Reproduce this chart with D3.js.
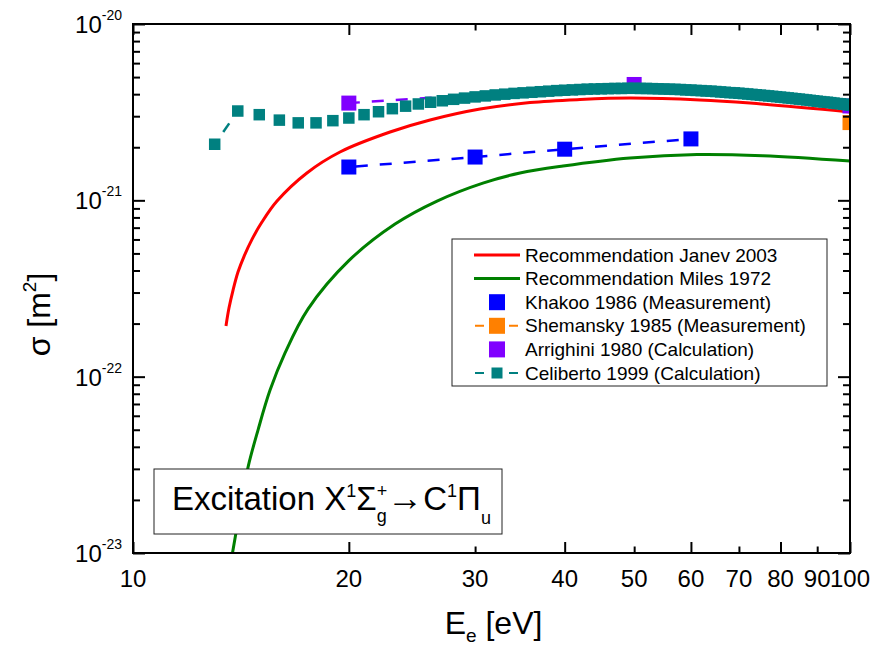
<!DOCTYPE html>
<html>
<head>
<meta charset="utf-8">
<script src="https://cdn.jsdelivr.net/npm/d3@7"></script>
<style>
  body { margin: 0; background: #fff; }
  svg { display: block; }
  text { font-family: "Liberation Sans", Arial, Helvetica, sans-serif; fill: #000; }
</style>
</head>
<body>
<svg id="chart" width="886" height="647"></svg>
<script>
// Electron energy in eV, cross sections in units of 1e-21 m^2.
const UNIT = 1e-21;

// Recommendation Janev 2003
const janevE = [13.48, 13.61, 13.79, 14.01, 14.29, 14.66, 15.13, 15.88, 17.48, 19.44, 22.83, 25.96, 30.48, 35.79, 42.02, 49.34, 61.76, 72.53, 100];
const janevS = [0.194, 0.245, 0.310, 0.392, 0.483, 0.603, 0.753, 0.991, 1.43, 1.88, 2.44, 2.855, 3.295, 3.587, 3.73, 3.80, 3.71, 3.56, 3.17];

// Recommendation Miles 1972
const milesE = [13.61, 13.74, 14.10, 14.47, 14.94, 15.53, 16.29, 17.54, 20.0, 23.20, 26.55, 30.76, 34.65, 39.79, 49.34, 61.18, 75.6, 100];
const milesS = [0.0076, 0.0096, 0.0175, 0.0307, 0.0498, 0.0839, 0.136, 0.2417, 0.455, 0.734, 0.991, 1.253, 1.428, 1.565, 1.738, 1.82, 1.79, 1.67];

// Khakoo 1986 (Measurement)
const khakooE = [20, 30, 40, 60];
const khakooS = [1.545, 1.76, 1.95, 2.23];

// Shemansky 1985 (Measurement)
const shemanskyE = [100];
const shemanskyS = [2.76];

// Arrighini 1980 (Calculation)
const arrighiniE = [20, 50, 100];
const arrighiniS = [3.56, 4.54, 3.43];

// Celiberto 1999 (Calculation), 1 eV grid
const celibertoE = [13, 14, 15, 16, 17, 18, 19, 20, 21, 22, 23, 24, 25, 26, 27, 28, 29, 30,
  31, 32, 33, 34, 35, 36, 37, 38, 39, 40, 41, 42, 43, 44, 45, 46, 47, 48, 49, 50,
  51, 52, 53, 54, 55, 56, 57, 58, 59, 60, 61, 62, 63, 64, 65, 66, 67, 68, 69, 70,
  71, 72, 73, 74, 75, 76, 77, 78, 79, 80, 81, 82, 83, 84, 85, 86, 87, 88, 89, 90,
  91, 92, 93, 94, 95, 96, 97, 98, 99, 100];
const celibertoS = [2.08, 3.21, 3.06, 2.85, 2.75, 2.75, 2.83, 2.93, 3.06, 3.18, 3.31, 3.42, 3.52, 3.60, 3.67, 3.74, 3.80, 3.86,
  3.91, 3.96, 4.00, 4.04, 4.07, 4.10, 4.13, 4.16, 4.19, 4.21, 4.23, 4.25, 4.27, 4.28, 4.29, 4.30, 4.31, 4.31, 4.32, 4.32,
  4.31, 4.31, 4.30, 4.29, 4.28, 4.27, 4.26, 4.25, 4.23, 4.22, 4.20, 4.19, 4.17, 4.16, 4.14, 4.12, 4.10, 4.08, 4.07, 4.05,
  4.03, 4.01, 3.99, 3.97, 3.95, 3.93, 3.91, 3.89, 3.87, 3.85, 3.83, 3.81, 3.79, 3.77, 3.75, 3.73, 3.71, 3.69, 3.67, 3.65,
  3.63, 3.61, 3.60, 3.58, 3.56, 3.54, 3.53, 3.51, 3.49, 3.47];

// Axis ticks
const xLabels = [10, 20, 30, 40, 50, 60, 70, 80, 90, 100];
const xMajor = [10, 20, 40, 60, 80, 100];
const xMinor = [30, 50, 70, 90];
const yExponents = [-23, -22, -21, -20];
const yMinorFactors = [2, 3, 4, 5, 6, 7, 8, 9];

const zip = (es, ss) => es.map((e, i) => ({ e, s: ss[i] * UNIT }));

const frame = { left: 133, top: 24, right: 850, bottom: 553 };
const x = d3.scaleLog().domain([10, 100]).range([frame.left, frame.right]);
const y = d3.scaleLog().domain([1e-23, 1e-20]).range([frame.bottom, frame.top]);

const svg = d3.select("#chart");

svg.append("defs").append("clipPath").attr("id", "plot-clip")
  .append("rect")
  .attr("x", frame.left).attr("y", frame.top)
  .attr("width", frame.right - frame.left).attr("height", frame.bottom - frame.top);

const plot = svg.append("g").attr("clip-path", "url(#plot-clip)");

const smooth = d3.line().x(d => x(d.e)).y(d => y(d.s)).curve(d3.curveCatmullRom.alpha(0.5));

// Recommended curves
plot.append("path").datum(zip(milesE, milesS))
  .attr("d", smooth).attr("fill", "none").attr("stroke", "#008000").attr("stroke-width", 3);
plot.append("path").datum(zip(janevE, janevS))
  .attr("d", smooth).attr("fill", "none").attr("stroke", "#ff0000").attr("stroke-width", 3);

const straight = d3.line().x(d => x(d.e)).y(d => y(d.s));

// Dashed connectors for the point series
function dashedPath(data, color, offset) {
  plot.append("path").datum(data)
    .attr("d", straight).attr("fill", "none")
    .attr("stroke", color).attr("stroke-width", 2.5)
    .attr("stroke-dasharray", "12,12").attr("stroke-dashoffset", offset);
}

// Segments that keep a gap around each symbol
function gappedSegments(data, color, gap) {
  for (let i = 0; i < data.length - 1; i++) {
    const x0 = x(data[i].e), y0 = y(data[i].s);
    const x1 = x(data[i + 1].e), y1 = y(data[i + 1].s);
    const L = Math.hypot(x1 - x0, y1 - y0);
    if (L <= 2 * gap) continue;
    const ux = (x1 - x0) / L, uy = (y1 - y0) / L;
    plot.append("line")
      .attr("x1", x0 + ux * gap).attr("y1", y0 + uy * gap)
      .attr("x2", x1 - ux * gap).attr("y2", y1 - uy * gap)
      .attr("stroke", color).attr("stroke-width", 2.5)
      .attr("stroke-dasharray", "12,12");
  }
}

function squares(data, color, size) {
  plot.append("g").selectAll("rect").data(data).join("rect")
    .attr("x", d => x(d.e) - size / 2).attr("y", d => y(d.s) - size / 2)
    .attr("width", size).attr("height", size)
    .attr("fill", color);
}

const khakoo = zip(khakooE, khakooS);
const shemansky = zip(shemanskyE, shemanskyS);
const arrighini = zip(arrighiniE, arrighiniS);
const celiberto = zip(celibertoE, celibertoS);

dashedPath(khakoo, "#0000ff", 17);
dashedPath(arrighini, "#8000ff", 1);
gappedSegments(celiberto, "#008080", 15);

squares(arrighini, "#8000ff", 15);
squares(shemansky, "#ff8000", 15);
squares(khakoo, "#0000ff", 15);
squares(celiberto, "#008080", 11.5);

// Axes: inward ticks on all four sides
const axes = svg.append("g");
function tickAxis(gen, scale, values, size, tx, ty) {
  axes.append("g").attr("transform", `translate(${tx},${ty})`)
    .call(gen(scale).tickValues(values).tickSizeInner(size).tickSizeOuter(0).tickFormat(() => ""))
    .call(g => g.select(".domain").remove())
    .call(g => g.selectAll("line").attr("stroke", "#000").attr("stroke-width", 2));
}
const yMajor = yExponents.map(p => Math.pow(10, p));
const yMinor = yExponents.slice(0, -1).flatMap(p => yMinorFactors.map(k => k * Math.pow(10, p)));

tickAxis(d3.axisBottom, x, xMajor, -11, 0, frame.bottom);
tickAxis(d3.axisBottom, x, xMinor, -6.5, 0, frame.bottom);
tickAxis(d3.axisTop, x, xMajor, -11, 0, frame.top);
tickAxis(d3.axisTop, x, xMinor, -6.5, 0, frame.top);
tickAxis(d3.axisLeft, y, yMajor, -12, frame.left, 0);
tickAxis(d3.axisLeft, y, yMinor, -7, frame.left, 0);
tickAxis(d3.axisRight, y, yMajor, -12, frame.right, 0);
tickAxis(d3.axisRight, y, yMinor, -7, frame.right, 0);

axes.append("rect")
  .attr("x", frame.left).attr("y", frame.top)
  .attr("width", frame.right - frame.left).attr("height", frame.bottom - frame.top)
  .attr("fill", "none").attr("stroke", "#000").attr("stroke-width", 2);

// X tick labels
axes.append("g").selectAll("text").data(xLabels).join("text")
  .attr("x", d => x(d)).attr("y", frame.bottom + 34)
  .attr("text-anchor", "middle").attr("font-size", 24)
  .text(d => d);

// Y tick labels, 10 with a superscript exponent
const yl = axes.append("g").selectAll("text").data(yExponents).join("text")
  .attr("x", frame.left - 11).attr("y", d => y(Math.pow(10, d)) + 9)
  .attr("text-anchor", "end").attr("font-size", 24);
yl.append("tspan").text("10");
yl.append("tspan").attr("font-size", 14).attr("dy", -13).text(d => String(d));

// Axis titles
const xt = svg.append("text")
  .attr("x", (frame.left + frame.right) / 2 + 2).attr("y", 634)
  .attr("text-anchor", "middle").attr("font-size", 32);
xt.append("tspan").text("E");
xt.append("tspan").attr("font-size", 19).attr("dy", 8).text("e");
xt.append("tspan").attr("dy", -8).text(" [eV]");

const yt = svg.append("text")
  .attr("transform", `translate(50,${(frame.top + frame.bottom) / 2 + 26}) rotate(-90)`)
  .attr("text-anchor", "middle").attr("font-size", 32);
yt.append("tspan").text("σ [m");
yt.append("tspan").attr("font-size", 19).attr("dy", -14).text("2");
yt.append("tspan").attr("dy", 14).text("]");

// Legend
const legend = svg.append("g");
legend.append("rect").attr("x", 452).attr("y", 239).attr("width", 375).attr("height", 147)
  .attr("fill", "#fff").attr("stroke", "#222").attr("stroke-width", 1);

const legendItems = [
  { label: "Recommendation Janev 2003", color: "#ff0000", kind: "line" },
  { label: "Recommendation Miles 1972", color: "#008000", kind: "line" },
  { label: "Khakoo 1986 (Measurement)", color: "#0000ff", kind: "square", size: 16 },
  { label: "Shemansky 1985 (Measurement)", color: "#ff8000", kind: "dashsquare", size: 16 },
  { label: "Arrighini 1980 (Calculation)", color: "#8000ff", kind: "square", size: 16 },
  { label: "Celiberto 1999 (Calculation)", color: "#008080", kind: "dashsquare", size: 11 }
];
legendItems.forEach((it, i) => {
  const cy = 255 + i * 23.6;
  const g = legend.append("g");
  if (it.kind === "line") {
    g.append("line").attr("x1", 474).attr("x2", 520).attr("y1", cy).attr("y2", cy)
      .attr("stroke", it.color).attr("stroke-width", 3);
  } else {
    if (it.kind === "dashsquare") {
      g.append("line").attr("x1", 475).attr("x2", 518).attr("y1", cy).attr("y2", cy)
        .attr("stroke", it.color).attr("stroke-width", 2).attr("stroke-dasharray", "9,25");
    }
    g.append("rect").attr("x", 497 - it.size / 2).attr("y", cy - it.size / 2)
      .attr("width", it.size).attr("height", it.size).attr("fill", it.color);
  }
  g.append("text").attr("x", 525).attr("y", cy + 6.5).attr("font-size", 19).text(it.label);
});

// Transition label
const ann = svg.append("g");
ann.append("rect").attr("x", 154).attr("y", 469).attr("width", 348).attr("height", 65)
  .attr("fill", "#fff").attr("stroke", "#222").attr("stroke-width", 1);
let cx = 172;
const base = 510;
function piece(txt, size, dy, advance = true) {
  const t = ann.append("text").attr("x", cx).attr("y", base + dy).attr("font-size", size).text(txt);
  const w = t.node().getComputedTextLength();
  if (advance) cx += w;
  return w;
}
piece("Excitation X", 33, 0);
piece("1", 18, -13);
piece("Σ", 33, 0);
{
  const w1 = piece("+", 18, -13, false);
  const w2 = piece("g", 18, 12, false);
  cx += Math.max(w1, w2);
}
piece("→", 36, 0);
piece("C", 33, 0);
piece("1", 18, -13);
piece("Π", 33, 0);
piece("u", 18, 14);
</script>
</body>
</html>
